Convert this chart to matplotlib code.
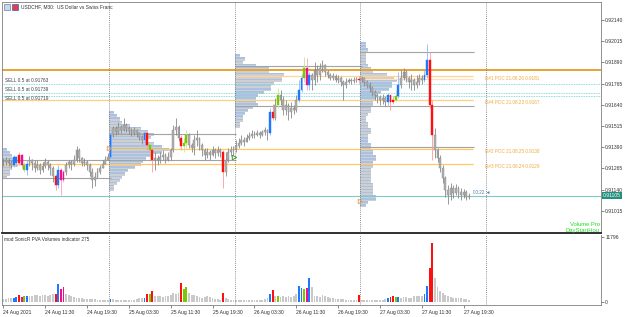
import matplotlib
matplotlib.use("Agg")
import matplotlib.pyplot as plt
import numpy as np
from matplotlib.patches import Rectangle
import matplotlib.transforms as mtransforms

plt.rcParams['font.family'] = ['Liberation Sans', 'DejaVu Sans']

# ---------------- data (prices in points, 1 point = 0.00001) ----------------
close_pts = [
    91303, 91314, 91297, 91285, 91332, 91297, 91344, 91285, 91255, 91291, 91314, 91297, 91267, 91285, 91255, 91279,
    91303, 91285, 91267, 91220, 91167, 91255, 91197, 91244, 91285, 91303, 91291, 91314, 91373, 91326, 91297, 91303,
    91285, 91244, 91197, 91214, 91244, 91267, 91291, 91314, 91332,
    91462, 91503, 91480, 91509, 91491, 91521, 91503, 91486, 91474, 91491, 91474, 91450, 91432, 91474, 91403, 91373,
    91314, 91326, 91314, 91332, 91344, 91314, 91332, 91373, 91491, 91509, 91444, 91397, 91415, 91462, 91403, 91385,
    91432, 91444, 91403, 91373, 91344, 91362, 91344, 91373, 91356, 91373, 91362, 91244, 91314, 91362, 91373, 91379,
    91397, 91415, 91432, 91421, 91444, 91456, 91468, 91462, 91474, 91462, 91480, 91491, 91474, 91598, 91562, 91639,
    91698, 91668, 91609, 91639, 91598, 91621, 91609, 91668, 91727, 91798, 91857, 91757, 91816, 91786, 91845, 91816,
    91857, 91875, 91834, 91816, 91798, 91810, 91786, 91798, 91775, 91757, 91775, 91786, 91780, 91786, 91792, 91786,
    91798, 91775, 91757, 91739, 91716, 91698, 91686, 91668, 91680, 91657, 91698, 91657, 91668, 91692, 91757, 91798,
    91834, 91798, 91775, 91786, 91757, 91775, 91798, 91786, 91816, 91904, 91639, 91462, 91373, 91326, 91267, 91208,
    91138, 91108, 91150, 91120, 91150, 91126, 91108, 91126, 91096, 91105]
high_pts = [
    91326, 91332, 91326, 91314, 91344, 91338, 91362, 91350, 91303, 91314, 91338, 91320, 91314, 91314, 91297, 91303,
    91326, 91314, 91297, 91279, 91232, 91285, 91267, 91255, 91303, 91314, 91314, 91344, 91397, 91385, 91332, 91326,
    91314, 91297, 91267, 91244, 91267, 91285, 91314, 91338, 91356,
    91474, 91515, 91515, 91539, 91521, 91562, 91533, 91515, 91503, 91509, 91497, 91480, 91462, 91486, 91474, 91421,
    91385, 91362, 91344, 91362, 91373, 91356, 91362, 91385, 91521, 91562, 91521, 91462, 91444, 91491, 91474, 91415,
    91462, 91491, 91450, 91415, 91385, 91385, 91373, 91397, 91385, 91397, 91385, 91373, 91362, 91385, 91397, 91397,
    91432, 91444, 91462, 91450, 91468, 91480, 91491, 91486, 91491, 91486, 91491, 91509, 91497, 91621, 91645, 91680,
    91739, 91727, 91692, 91668, 91651, 91657, 91639, 91698, 91786, 91822, 91922, 91916, 91834, 91828, 91892, 91875,
    91887, 91904, 91881, 91845, 91828, 91828, 91822, 91816, 91810, 91786, 91798, 91798, 91798, 91804, 91804, 91810,
    91810, 91804, 91786, 91775, 91751, 91727, 91710, 91698, 91704, 91692, 91710, 91698, 91692, 91727, 91834, 91845,
    91857, 91845, 91810, 91822, 91798, 91816, 91822, 91816, 91845, 91999, 91951, 91668, 91503, 91385, 91344, 91285,
    91220, 91167, 91179, 91167, 91173, 91161, 91150, 91144, 91138, 91120]
low_pts = [
    91279, 91285, 91279, 91267, 91273, 91279, 91285, 91267, 91244, 91226, 91279, 91255, 91244, 91255, 91232, 91244,
    91267, 91255, 91226, 91185, 91138, 91150, 91108, 91185, 91226, 91267, 91255, 91279, 91303, 91303, 91279, 91279,
    91255, 91220, 91150, 91161, 91208, 91232, 91267, 91297, 91314,
    91326, 91450, 91462, 91468, 91474, 91486, 91480, 91468, 91456, 91462, 91450, 91432, 91409, 91403, 91373, 91326,
    91244, 91255, 91285, 91297, 91314, 91297, 91309, 91314, 91362, 91462, 91427, 91373, 91362, 91385, 91385, 91362,
    91344, 91397, 91373, 91338, 91314, 91326, 91314, 91338, 91326, 91338, 91332, 91150, 91220, 91303, 91338, 91344,
    91362, 91385, 91403, 91397, 91421, 91432, 91444, 91444, 91456, 91444, 91456, 91462, 91432, 91462, 91550, 91550,
    91621, 91639, 91580, 91580, 91550, 91562, 91586, 91598, 91657, 91716, 91775, 91727, 91727, 91727, 91757, 91775,
    91786, 91834, 91810, 91798, 91786, 91786, 91775, 91769, 91751, 91668, 91739, 91769, 91763, 91769, 91775, 91769,
    91775, 91751, 91739, 91716, 91692, 91668, 91651, 91639, 91645, 91633, 91639, 91609, 91645, 91657, 91680, 91739,
    91786, 91775, 91739, 91727, 91727, 91739, 91757, 91763, 91775, 91798, 91621, 91314, 91326, 91303, 91244, 91179,
    91096, 91055, 91079, 91091, 91108, 91091, 91079, 91091, 91079, 91085]
first_open_pts = 91300

volumes = [
    500, 600, 700, 650, 750, 900, 1250, 900, 1050, 1100, 1000, 1150, 1200, 1250, 1100, 1300,
    1200, 1150, 1300, 1400, 1450, 3200, 2300, 2700, 1500, 1300, 1000, 900, 800, 700, 650, 600,
    550, 550, 500, 500, 450, 400, 400, 350, 350,
    600, 500, 400, 350, 400, 350, 350, 400, 400, 450, 500, 700, 700, 750, 1430, 1430,
    1970, 1100, 1000, 1100, 900, 1000, 1100, 1300, 1600, 1500, 1700, 3400, 2300, 2700, 1600, 1300,
    1200, 1000, 900, 800, 900, 1000, 900, 700, 600, 500, 450, 1600, 700, 500, 400, 350,
    400, 350, 350, 300, 350, 300, 350, 400, 350, 400, 450, 500, 700, 1430, 2150, 1100,
    1070, 900, 1000, 900, 1000, 900, 1100, 1500, 2860, 2500, 2300, 2500, 4300, 2700, 1100, 1000,
    900, 1200, 1100, 900, 800, 700, 600, 550, 500, 500, 450, 400, 400, 350, 400, 1250,
    400, 350, 350, 300, 350, 350, 400, 400, 450, 500, 650, 900, 1070, 900, 900, 800,
    900, 850, 700, 800, 1000, 1100, 1000, 1100, 1430, 2860, 6250, 10700, 4300, 2700, 2000, 1600,
    1300, 1000, 900, 800, 700, 800, 700, 600, 500, 400]

# PVA colored bars (index, code)
pva_idx = [4, 5, 6, 7, 8, 9, 20, 21, 22, 23, 41, 54, 55, 56, 57, 68, 69, 70, 84,
           102, 103, 105, 113, 114, 115, 116, 117, 136, 147, 148, 149, 150, 151, 161, 162, 163, 164]
pva_code = ['b', 'b', 'r', 'm', 'g', 'b', 'r', 'b', 'm', 'm', 'b', 'b', 'r', 'g', 'r', 'r', 'g', 'g', 'r',
            'b', 'r', 'g', 'b', 'b', 'g', 'm', 'b', 'r', 'b', 'r', 'r', 'g', 'b', 'b', 'b', 'r', 'r']

tick_idx = [0, 16, 32, 48, 64, 80, 96, 112, 128, 144, 160, 176]
tick_labels = ['24 Aug 2021', '24 Aug 11:30', '24 Aug 19:30', '25 Aug 03:30', '25 Aug 11:30',
               '25 Aug 19:30', '26 Aug 03:30', '26 Aug 11:30', '26 Aug 19:30', '27 Aug 03:30',
               '27 Aug 11:30', '27 Aug 19:30']
day_starts = [41, 89, 137, 185]
price_ticks = [0.92140, 0.92015, 0.91890, 0.91765, 0.91640, 0.91515, 0.91390, 0.91265, 0.91140, 0.91015]
vol_ticks = [0, 11796]
last_price = 0.91105

# volume profiles: (first bar, top price, bin size, lengths in bars)
prof_start = [0, 41, 89, 137]
prof_top = [0.91374, 0.91592, 0.91928, 0.91999]
prof_step = 0.00018
prof_len = [
    [2, 3, 4, 5, 5, 6, 4, 3, 3, 2],
    [2, 3, 4, 5, 8, 12, 15, 17, 16, 14, 17, 20, 23, 20, 16, 14, 13, 12, 10, 7, 6, 5, 4, 3, 2, 2],
    [2, 4, 3, 8, 13, 13, 19, 18, 18, 15, 14, 14, 11, 9, 8, 8, 9, 7, 5, 4, 3, 3, 2, 2],
    [2, 2, 3, 2, 2, 2, 2, 3, 4, 5, 10, 13, 14, 12, 12, 11, 8, 6, 6, 5, 5, 4, 4, 3, 2, 2, 3, 3, 4, 4,
     3, 3, 3, 4, 4, 5, 5, 6, 6, 5, 5, 4, 4, 4, 4, 4, 5, 5, 5, 5, 6, 6, 3, 2]]

# value-area boundary lines (price, from bar, to bar)
va_lines = [(0.91951, 137, 180), (0.91869, 89, 137), (0.91633, 89, 180), (0.91391, 137, 180),
            (0.91468, 41, 89), (0.91314, 0, 89), (0.91208, 0, 41)]
# POC lines (price, from bar, label)
poc_lines = [(0.91810, 89, 'D#1 POC 21.08.26 0.9181'), (0.91668, 0, 'D#4 POC 21.08.23 0.9167'),
             (0.91380, 41, 'D#2 POC 21.08.25 0.9138'), (0.91290, 0, 'D#3 POC 21.08.24 0.9129')]
gold_level = 0.91845
sell_levels = [0.91763, 0.91710, 0.91692]
sell_labels = ['SELL 0.5 at 0.91763', 'SELL 0.5 at 0.91739', 'SELL 0.5 at 0.91719']
trade_arrows = [(40.3, 0.91385, '#E8A060'), (88.3, 0.91335, '#3C9A3C'), (136.4, 0.91075, '#E8A060')]

# ---------------- figure ----------------
W, H = 625, 317
fig = plt.figure(figsize=(W / 100, H / 100), dpi=100)
fig.patch.set_facecolor('white')
ax = fig.add_axes([2 / W, (H - 233) / H, 599 / W, 231 / H])
axv = fig.add_axes([2 / W, (H - 305) / H, 599 / W, 70 / H])

n = len(close_pts)
idx = np.arange(n)
c = np.array(close_pts) / 1e5
o = np.concatenate([[first_open_pts / 1e5], c[:-1]])
h = np.maximum(np.array(high_pts) / 1e5, np.maximum(o, c))
l = np.minimum(np.array(low_pts) / 1e5, np.minimum(o, c))

body_col = {'b': '#1E78FF', 'r': '#FF1010', 'g': '#7CC800', 'm': '#F0108C'}
wick_col = {'b': '#8CB8FF', 'r': '#FF9A9A', 'g': '#C4E88A', 'm': '#F8A0CC'}
vol_col = {'b': '#1E78FF', 'r': '#FF1010', 'g': '#7CC800', 'm': '#F0108C'}
codes = [''] * n
for i, cd in zip(pva_idx, pva_code):
    codes[i] = cd

XMIN, XMAX = -0.5, 228.5
YMIN, YMAX = 0.90884, 0.92246

# volume profiles
for s, top, lens in zip(prof_start, prof_top, prof_len):
    lev = top - prof_step * np.arange(len(lens))
    ax.barh(lev + prof_step / 4, lens, height=prof_step / 2, left=s - 0.5, color='#A8C1E4', zorder=1, lw=0)
    ax.barh(lev - prof_step / 4, lens, height=prof_step / 2, left=s - 0.5, color='#CFCFCF', zorder=1, lw=0)

# horizontal levels
ax.axhline(gold_level, color='#E7A232', lw=1.4, zorder=2)
for lv in sell_levels:
    ax.axhline(lv, color='#6CCFCF', lw=0.6, ls=(0, (1, 1)), zorder=2)
sell_va = ['bottom', 'bottom', 'top']
sell_dy = [0.00003, 0.00003, -0.00003]
for lv, lab, va, dy in zip(sell_levels, sell_labels, sell_va, sell_dy):
    ax.text(0.5, lv + dy, lab, fontsize=3.4, color='#404040', va=va, ha='left', zorder=6)
ax.axhline(last_price, color='#7FCBC2', lw=0.8, zorder=2)
for lv, a, b in va_lines:
    ax.hlines(lv, a - 0.5, b, color='#A3A3A3', lw=0.8, zorder=2)
poc_colors = ['#FFD49C', '#FFCF80', '#FFC860', '#FFC860']
for (lv, a, lab), pc in zip(poc_lines, poc_colors):
    ax.hlines(lv, a - 0.5, 179.5, color=pc, lw=0.9, zorder=2)
    ax.text(184, lv - 0.00002, lab, fontsize=3.3, color='#F2A83A', va='top', ha='left', zorder=6)
ax.hlines(0.91790, 137 - 0.5, 179.5, color='#FFE2BC', lw=0.9, zorder=2)

# day separators
for d in day_starts:
    for a_ in (ax, axv):
        a_.axvline(d - 0.5, color='#6E6E6E', lw=0.6, ls=(0, (1, 1.5)), zorder=3)

# candles
bw = 0.7
bcols, ecols, wcols = [], [], []
for cd in codes:
    if cd:
        bcols.append(body_col[cd]); ecols.append(body_col[cd]); wcols.append(wick_col[cd])
    else:
        bcols.append('#B0B0B0'); ecols.append('#888888'); wcols.append('#888888')
ax.vlines(idx, l, h, colors=wcols, lw=0.6, zorder=4)
bot = np.minimum(o, c)
hgt = np.maximum(np.abs(c - o), 0.000012)
ax.bar(idx, hgt, bottom=bot, width=bw, color=bcols, edgecolor=ecols, lw=0.3, zorder=5)

for x_, y_, col in trade_arrows:
    ax.plot(x_, y_, marker='>', ms=3.2, mfc='none', mec=col, mew=0.7, zorder=6)

ax.text(179.5, last_price + 0.00002, '00:22 \u25c4', fontsize=3.3, color='#4F7FA8', va='bottom', ha='left',
        zorder=6)
ax.text(0.998, 0.024, 'Volume Pro', transform=ax.transAxes, fontsize=4.2, color='#22E022', ha='right',
        va='bottom')
ax.text(0.998, 0.0, 'DayStartHou', transform=ax.transAxes, fontsize=4.2, color='#22E022', ha='right',
        va='bottom')

ax.set_xlim(XMIN, XMAX)
ax.set_ylim(YMIN, YMAX)
ax.yaxis.tick_right()
ax.set_yticks(price_ticks)
ax.set_yticklabels([f'{t:.5f}' for t in price_ticks])
ax.tick_params(axis='y', direction='out', length=2, width=0.5, colors='#555555', labelsize=3.6,
               labelcolor='#333333', pad=1)
ax.set_xticks([])
for side in ('left', 'top', 'right'):
    ax.spines[side].set_color('#808080')
    ax.spines[side].set_linewidth(0.6)
ax.spines['bottom'].set_color('#202020')
ax.spines['bottom'].set_linewidth(1.3)

# current price box
trans = mtransforms.blended_transform_factory(ax.transAxes, ax.transData)
ax.text(1.003, last_price, f'{last_price:.5f}', transform=trans, fontsize=3.6, color='white',
        va='center', ha='left', zorder=7,
        bbox=dict(boxstyle='square,pad=0.25', fc='#23907F', ec='none'))

# title and icons
fig.patches.append(Rectangle((4 / W, (H - 10) / H), 6 / W, 6 / H, transform=fig.transFigure,
                             fc='#C9D6EE', ec='#6E7FA8', lw=0.5))
fig.patches.append(Rectangle((12 / W, (H - 10) / H), 6 / W, 6 / H, transform=fig.transFigure,
                             fc='#E04040', ec='#3A5FC8', lw=0.5))
fig.text(21 / W, (H - 6.5) / H, 'USDCHF, M30:  US Dollar vs Swiss Franc', fontsize=3.5, color='#303030',
         va='center', ha='left')

# volume panel
vcols = [vol_col[cd] if cd else '#C9C9C9' for cd in codes]
axv.bar(idx, volumes, width=0.7, color=vcols, lw=0)
axv.set_xlim(XMIN, XMAX)
axv.set_ylim(-544, 12159)
axv.yaxis.tick_right()
axv.set_yticks(vol_ticks)
axv.set_yticklabels([str(v) for v in vol_ticks])
axv.tick_params(axis='y', direction='out', length=2, width=0.5, colors='#555555', labelsize=3.6,
                labelcolor='#333333', pad=1)
axv.set_xticks(tick_idx)
axv.set_xticklabels(tick_labels)
axv.tick_params(axis='x', direction='out', length=2, width=0.5, colors='#555555', labelsize=3.6,
                labelcolor='#303030', pad=1.5)
for lab in axv.get_xticklabels():
    lab.set_ha('left')
axv.spines['top'].set_visible(False)
for side in ('left', 'right', 'bottom'):
    axv.spines[side].set_color('#808080')
    axv.spines[side].set_linewidth(0.6)
axv.text(0.003, 0.93, 'mod SonicR PVA Volumes indicator 275', transform=axv.transAxes, fontsize=3.4,
         color='#303030', va='center', ha='left')

fig.savefig('out.png', dpi=100, facecolor='white')
